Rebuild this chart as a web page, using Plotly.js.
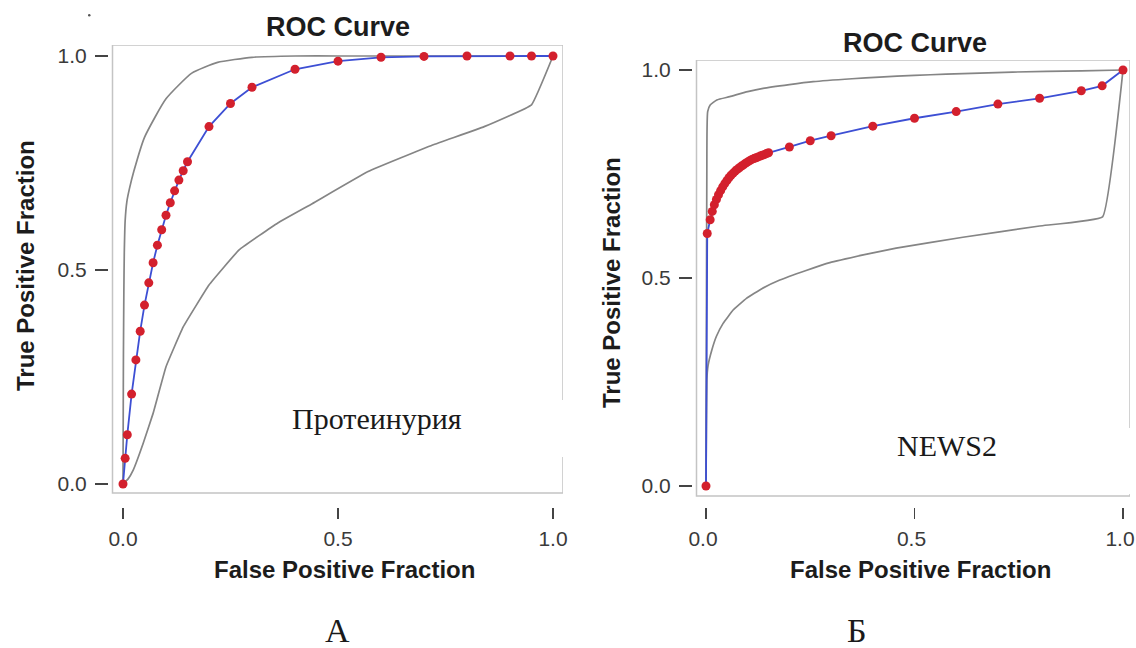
<!DOCTYPE html>
<html>
<head>
<meta charset="utf-8">
<script src="https://cdn.plot.ly/plotly-3.0.1.min.js"></script>
<style>html,body{margin:0;padding:0;background:#fff;}#chart{width:1136px;height:648px;}</style>
</head>
<body>
<div id="chart"></div>
<script>
// ---------- Data ----------
// Panel A: Протеинурия
const fprA = [0, 0.005, 0.01, 0.02, 0.03, 0.04, 0.05, 0.06, 0.07, 0.08, 0.09, 0.10, 0.11, 0.12, 0.13, 0.14, 0.15, 0.20, 0.25, 0.30, 0.40, 0.50, 0.60, 0.70, 0.80, 0.90, 0.95, 1.0];
const tprA = [0, 0.06, 0.115, 0.21, 0.29, 0.357, 0.418, 0.47, 0.517, 0.558, 0.594, 0.628, 0.657, 0.685, 0.71, 0.732, 0.753, 0.835, 0.889, 0.927, 0.969, 0.988, 0.997, 0.999, 1.0, 1.0, 1.0, 1.0];
const upperAx = [0, 0.0005, 0.001, 0.002, 0.003, 0.005, 0.009, 0.015, 0.025, 0.05, 0.1, 0.16, 0.22, 0.3, 0.4, 0.5, 0.7, 1.0];
const upperAy = [0, 0.15, 0.3, 0.45, 0.54, 0.615, 0.66, 0.69, 0.73, 0.81, 0.9, 0.96, 0.985, 0.997, 1.0, 1.0, 1.0, 1.0];
const lowerAx = [0, 0.012, 0.024, 0.047, 0.07, 0.1, 0.14, 0.2, 0.27, 0.36, 0.44, 0.57, 0.72, 0.84, 0.95, 1.0];
const lowerAy = [0, 0.012, 0.033, 0.095, 0.165, 0.274, 0.367, 0.465, 0.547, 0.61, 0.655, 0.73, 0.792, 0.835, 0.886, 1.0];

// Panel Б: NEWS2
const fprB = [0, 0.003, 0.01, 0.015, 0.02, 0.025, 0.03, 0.035, 0.04, 0.045, 0.05, 0.055, 0.06, 0.065, 0.07, 0.075, 0.08, 0.085, 0.09, 0.095, 0.10, 0.105, 0.11, 0.115, 0.12, 0.125, 0.13, 0.135, 0.14, 0.145, 0.15, 0.20, 0.25, 0.30, 0.40, 0.50, 0.60, 0.70, 0.80, 0.90, 0.95, 1.0];
const tprB = [0, 0.607, 0.640, 0.660, 0.676, 0.689, 0.700, 0.710, 0.719, 0.727, 0.734, 0.741, 0.747, 0.752, 0.757, 0.761, 0.765, 0.769, 0.772, 0.776, 0.779, 0.782, 0.785, 0.787, 0.789, 0.791, 0.793, 0.795, 0.797, 0.799, 0.801, 0.815, 0.83, 0.842, 0.865, 0.884, 0.90, 0.918, 0.932, 0.95, 0.962, 1.0];
const upperBx = [0, 0.001, 0.002, 0.004, 0.01, 0.026, 0.057, 0.1, 0.137, 0.2, 0.257, 0.35, 0.416, 0.5, 0.576, 0.735, 0.9, 1.0];
const upperBy = [0, 0.4, 0.75, 0.90, 0.916, 0.928, 0.936, 0.948, 0.956, 0.965, 0.972, 0.979, 0.983, 0.987, 0.99, 0.995, 0.998, 1.0];
const lowerBx = [0, 0.0005, 0.001, 0.002, 0.005, 0.014, 0.025, 0.041, 0.065, 0.097, 0.135, 0.177, 0.24, 0.297, 0.38, 0.456, 0.616, 0.8, 0.951, 1.0];
const lowerBy = [0, 0.08, 0.16, 0.255, 0.29, 0.327, 0.36, 0.391, 0.423, 0.451, 0.475, 0.495, 0.518, 0.537, 0.556, 0.572, 0.598, 0.625, 0.647, 1.0];

const tickVals = [0, 0.5, 1];
const tickText = ['0.0', '0.5', '1.0'];

// ---------- Geometry (pixels) ----------
const W = 1136, H = 648;
const PX = v => v / W;
const PY = v => 1 - v / H;

// data 0/1 pixel positions, frame, tick attach positions
const gA = {x0: 123, x1: 553, y0: 484, y1: 56, fl: 112.5, fr: 563, ft: 45, fb: 493, al: 109, ab: 507};
const gB = {x0: 706, x1: 1123, y0: 486, y1: 70, fl: 696.5, fr: 1130, ft: 60, fb: 496, al: 693, ab: 507};

const dx = (g, p) => (p - g.x0) / (g.x1 - g.x0);
const dy = (g, p) => (g.y0 - p) / (g.y0 - g.y1);

const tickFont = {family: 'Liberation Sans, Arial, sans-serif', size: 21, color: '#3a3a3a'};

function xAxis(g, shift) {
  return {
    domain: [PX(g.al), PX(g.fr)], range: [dx(g, g.al), dx(g, g.fr)],
    tickvals: tickVals, ticktext: tickText, ticks: 'outside', ticklen: 11, tickwidth: 1.5, tickcolor: '#444',
    showline: false, showgrid: false, zeroline: false, tickfont: tickFont, ticklabelstandoff: 2,
    ticklabelshift: shift || 0, ticklabeloverflow: 'allow', fixedrange: true
  };
}
function yAxis(g, xname) {
  return {
    domain: [PY(g.ab), PY(g.ft)], range: [dy(g, g.ab), dy(g, g.ft)], anchor: xname,
    tickvals: tickVals, ticktext: tickText, ticks: 'outside', ticklen: 13, tickwidth: 1.5, tickcolor: '#444',
    showline: false, showgrid: false, zeroline: false, tickfont: tickFont, ticklabelstandoff: 4,
    ticklabeloverflow: 'allow', fixedrange: true
  };
}

const bandLine = {color: '#858585', width: 1.7, shape: 'spline', smoothing: 0.5};
const bandLineLow = {color: '#858585', width: 1.7, shape: 'spline', smoothing: 0.25};
const rocLine = {color: '#3d4fd4', width: 1.8};
const rocMarker = {color: '#d3202d', size: 9, line: {width: 0}};

const traces = [
  {x: lowerAx, y: lowerAy, xaxis: 'x', yaxis: 'y', mode: 'lines', line: bandLineLow, hoverinfo: 'skip'},
  {x: upperAx, y: upperAy, xaxis: 'x', yaxis: 'y', mode: 'lines', line: bandLine, hoverinfo: 'skip'},
  {x: fprA, y: tprA, xaxis: 'x', yaxis: 'y', mode: 'lines+markers', line: rocLine, marker: rocMarker, name: 'Протеинурия'},
  {x: lowerBx, y: lowerBy, xaxis: 'x2', yaxis: 'y2', mode: 'lines', line: bandLineLow, hoverinfo: 'skip'},
  {x: upperBx, y: upperBy, xaxis: 'x2', yaxis: 'y2', mode: 'lines', line: bandLine, hoverinfo: 'skip'},
  {x: fprB, y: tprB, xaxis: 'x2', yaxis: 'y2', mode: 'lines+markers', line: rocLine, marker: rocMarker, name: 'NEWS2'}
];

function frame(g, xr, yr) {
  return {type: 'rect', xref: xr, yref: yr, x0: dx(g, g.fl), x1: dx(g, g.fr), y0: dy(g, g.fb), y1: dy(g, g.ft),
    line: {color: '#c4c4c4', width: 1.5}, fillcolor: 'rgba(0,0,0,0)', layer: 'below'};
}
function gap(g, xr, yr, top, bot) {
  return {type: 'rect', xref: xr, yref: yr, x0: dx(g, g.fr - 3), x1: dx(g, g.fr + 3), y0: dy(g, bot), y1: dy(g, top),
    line: {width: 0}, fillcolor: '#ffffff', layer: 'below'};
}

const boldFont = (s) => ({family: 'Liberation Sans, Arial, sans-serif', size: s, color: '#1c1c1c', weight: 700});
const serifFont = (s) => ({family: 'Liberation Serif, Times New Roman, serif', size: s, color: '#1a1a1a'});
function ann(text, x, y, font, angle) {
  return {text: text, xref: 'paper', yref: 'paper', x: PX(x), y: PY(y), xanchor: 'center', yanchor: 'middle',
    showarrow: false, font: font, textangle: angle || 0};
}

const layout = {
  width: W, height: H,
  margin: {l: 0, r: 0, t: 0, b: 0},
  paper_bgcolor: '#ffffff', plot_bgcolor: 'rgba(0,0,0,0)',
  showlegend: false,
  xaxis: xAxis(gA, 0), yaxis: yAxis(gA, 'x'),
  xaxis2: xAxis(gB, -3), yaxis2: yAxis(gB, 'x2'),
  shapes: [
    frame(gA, 'x', 'y'), gap(gA, 'x', 'y', 400, 457),
    frame(gB, 'x2', 'y2'), gap(gB, 'x2', 'y2', 428, 494),
    {type: 'circle', xref: 'paper', yref: 'paper', x0: PX(88), x1: PX(90.5), y0: PY(16.5), y1: PY(14), line: {width: 0}, fillcolor: '#555'}
  ],
  annotations: [
    ann('ROC Curve', 338, 27, boldFont(27)),
    ann('ROC Curve', 915, 43, boldFont(27)),
    ann('True Positive Fraction', 25, 266, boldFont(24), -90),
    ann('True Positive Fraction', 611, 283, boldFont(24), -90),
    ann('False Positive Fraction', 344, 569, boldFont(24)),
    ann('False Positive Fraction', 921, 569, boldFont(24)),
    ann('Протеинурия', 377, 418, serifFont(30)),
    ann('NEWS2', 947, 445, serifFont(30)),
    ann('А', 337, 630, serifFont(34)),
    ann('Б', 857, 630, serifFont(34))
  ]
};

Plotly.newPlot('chart', traces, layout, {staticPlot: true, displayModeBar: false});
</script>
</body>
</html>
